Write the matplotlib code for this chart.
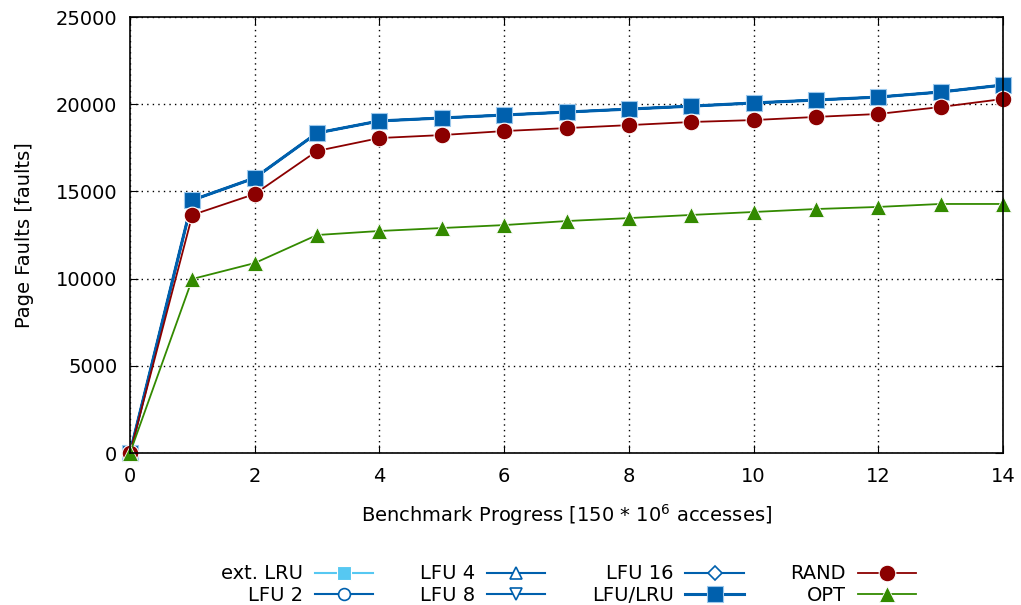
import matplotlib.pyplot as plt
import numpy as np

# benchmark progress steps
progress = list(range(15))

# page faults (LFU variants and ext. LRU overlap)
lfu_lru = [0, 14500, 15770, 18350, 19040, 19210, 19380, 19550, 19720, 19890,
           20070, 20240, 20410, 20700, 21100]
ext_lru = [0, 14500, 15770, 18350, 19040, 19210, 19380, 19550, 19720, 19890,
           20070, 20240, 20410, 20700, 21100]
lfu_2 = [0, 14500, 15770, 18350, 19040, 19210, 19380, 19550, 19720, 19890,
         20070, 20240, 20410, 20700, 21100]
lfu_4 = [0, 14500, 15770, 18350, 19040, 19210, 19380, 19550, 19720, 19890,
         20070, 20240, 20410, 20700, 21100]
lfu_8 = [0, 14500, 15770, 18350, 19040, 19210, 19380, 19550, 19720, 19890,
         20070, 20240, 20410, 20700, 21100]
lfu_16 = [0, 14500, 15770, 18350, 19040, 19210, 19380, 19550, 19720, 19890,
          20070, 20240, 20410, 20700, 21100]
rand = [0, 13650, 14850, 17320, 18060, 18230, 18460, 18630, 18800, 18980,
        19090, 19270, 19440, 19840, 20300]
opt = [0, 9980, 10890, 12500, 12730, 12900, 13070, 13300, 13470, 13650,
       13820, 13990, 14110, 14280, 14280]

light_blue = '#56c8f2'
blue = '#0060ad'
red = '#8b0000'
green = '#338a00'

plt.rcParams['font.size'] = 14

fig = plt.figure(figsize=(10.21, 6.05), dpi=100)
ax = fig.add_axes([0.1273, 0.2512, 0.8551, 0.7207])

h_ext, = ax.plot(progress, ext_lru, color=light_blue, lw=1.5, marker='s', ms=10,
                 mec='white', mew=0.8, label='ext. LRU')
h2, = ax.plot(progress, lfu_2, color=blue, lw=1.5, marker='o', ms=8.5,
              mfc='white', mec=blue, mew=1.2, label='LFU 2')
h4, = ax.plot(progress, lfu_4, color=blue, lw=1.5, marker='^', ms=8.5,
              mfc='white', mec=blue, mew=1.2, label='LFU 4')
h8, = ax.plot(progress, lfu_8, color=blue, lw=1.5, marker='v', ms=8.5,
              mfc='white', mec=blue, mew=1.2, label='LFU 8')
h16, = ax.plot(progress, lfu_16, color=blue, lw=1.5, marker='D', ms=7,
               mfc='white', mec=blue, mew=1.2, label='LFU 16')
hlru, = ax.plot(progress, lfu_lru, color=blue, lw=2.2, marker='s', ms=11.5,
                mec='#9cc8ec', mew=0.8, label='LFU/LRU')
hr, = ax.plot(progress, rand, color=red, lw=1.3, marker='o', ms=12,
              mec='white', mew=0.8, label='RAND')
ho, = ax.plot(progress, opt, color=green, lw=1.3, marker='^', ms=11,
              mec='white', mew=0.6, label='OPT')

ax.set_xlim(0, 14)
ax.set_ylim(0, 25000)
ax.set_xticks(range(0, 15, 2))
ax.set_yticks(range(0, 25001, 5000))
ax.grid(True, color='black', linestyle=(0, (1, 3)), linewidth=1)
ax.tick_params(direction='in', top=True, right=True, length=6)
ax.tick_params(axis='x', pad=10)
ax.tick_params(axis='y', pad=9)
for s in ax.spines.values():
    s.set_linewidth(1.2)
for ln in ax.get_lines():
    ln.set_clip_on(False)

ax.set_xlabel('Benchmark Progress [150 * 10$^{6}$ accesses]', labelpad=12)
ax.set_ylabel('Page Faults [faults]', labelpad=16)

handles = [h_ext, h2, h4, h8, h16, hlru, hr, ho]
fig.legend(handles=handles, labels=[h.get_label() for h in handles],
           ncol=4, loc='upper center', bbox_to_anchor=(0.557, 0.08),
           frameon=False, markerfirst=False, handlelength=3.0,
           columnspacing=2.4, labelspacing=0.12, handletextpad=0.6,
           borderaxespad=0)

fig.savefig('out.png', dpi=100)
